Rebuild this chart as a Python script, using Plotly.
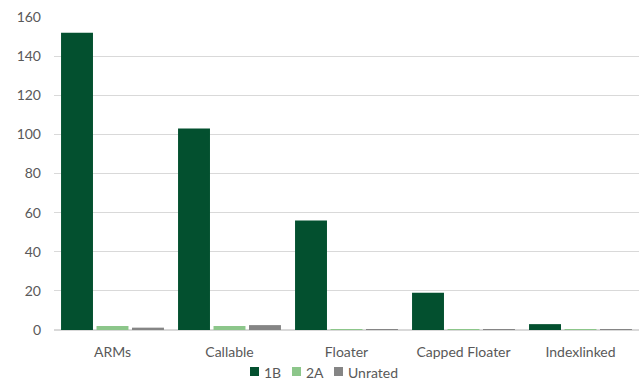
import plotly.graph_objects as go

categories = ["ARMs", "Callable", "Floater", "Capped Floater", "Indexlinked"]
series_names = ["1B", "2A", "Unrated"]
values_1b = [152, 103, 56, 19, 3]
values_2a = [2, 2, 0.4, 0.4, 0.4]
values_unrated = [1.2, 2.5, 0.4, 0.4, 0.4]
y_ticks = [0, 20, 40, 60, 80, 100, 120, 140, 160]

colors = ["#03502F", "#8CC68A", "#858585"]
font_family = "Lato, 'Open Sans', sans-serif"
text_color = "#595959"

W, H = 643, 381
ML, MR, MT, MB = 54, 4, 17, 51
PW, PH = W - ML - MR, H - MT - MB

fig = go.Figure()
for name, vals, col in zip(series_names, [values_1b, values_2a, values_unrated], colors):
    fig.add_trace(go.Bar(
        name=name, x=categories, y=vals,
        marker=dict(color=col, line=dict(width=0)),
        showlegend=False,
    ))


def px_x(px):
    return (px - ML) / PW


def px_y(py):
    return (H - MB - py) / PH


# compact legend row under the category labels
legend_x = [250, 292, 334]
for name, col, lx in zip(series_names, colors, legend_x):
    fig.add_shape(type="rect", xref="paper", yref="paper",
                  x0=px_x(lx), x1=px_x(lx + 9), y0=px_y(376), y1=px_y(367),
                  fillcolor=col, line=dict(width=0))
    fig.add_annotation(text=name, xref="paper", yref="paper",
                       x=px_x(lx + 12), y=px_y(372), xanchor="left", yanchor="middle",
                       showarrow=False, font=dict(size=14, color=text_color))

fig.update_layout(
    width=W, height=H,
    margin=dict(l=ML, r=MR, t=MT, b=MB, autoexpand=False),
    paper_bgcolor="white", plot_bgcolor="white",
    barmode="group", bargap=0.09, bargroupgap=0.1,
    font=dict(family=font_family, size=14, color=text_color),
    xaxis=dict(showgrid=False, showline=False, ticks="", tickfont=dict(size=14),
               ticklabelstandoff=12),
    yaxis=dict(range=[0, 160], tickvals=y_ticks, showgrid=True, gridcolor="#D9D9D9",
               gridwidth=1, zeroline=True, zerolinecolor="#D9D9D9", showline=False,
               ticks="", tickfont=dict(size=14), ticklabelstandoff=12),
)

fig.write_html("out.html")
